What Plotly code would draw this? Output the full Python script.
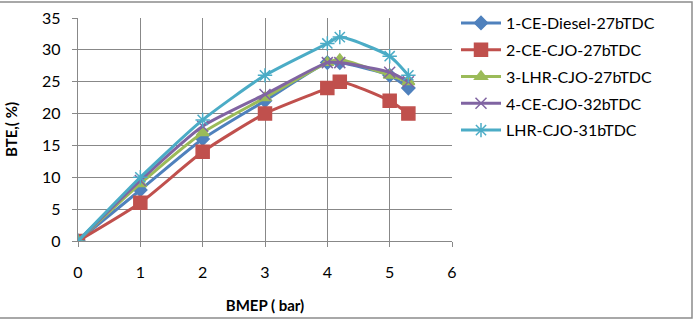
import plotly.graph_objects as go

bmep = [0, 1, 2, 3, 4, 4.2, 5, 5.3]
diesel_27 = [0, 8, 16, 22, 28, 28, 26, 24]
cjo_27 = [0, 6, 14, 20, 24, 25, 22, 20]
lhr_cjo_27 = [0, 9, 17, 22.5, 28, 28.5, 26, 25]
ce_cjo_32 = [0, 9.5, 18, 23, 28, 28, 26.5, 25]
lhr_cjo_31 = [0, 10, 19, 26, 31, 32, 29, 26]

names = ["1-CE-Diesel-27bTDC", "2-CE-CJO-27bTDC", "3-LHR-CJO-27bTDC",
         "4-CE-CJO-32bTDC", "LHR-CJO-31bTDC"]
series = [diesel_27, cjo_27, lhr_cjo_27, ce_cjo_32, lhr_cjo_31]
colors = ["#4F81BD", "#C0504D", "#9BBB59", "#8064A2", "#4BACC6"]
symbols = ["diamond", "square", "triangle-up", "x-thin-open", "asterisk-open"]
sizes = [10, 13, 11, 11, 12]

fig = go.Figure()
for i, (n, s, c, sym, sz) in enumerate(zip(names, series, colors, symbols, sizes)):
    fig.add_trace(go.Scatter(
        x=bmep, y=s, name=n, mode="lines+markers", legendgroup=f"g{i}",
        line=dict(color=c, width=3, shape="spline", smoothing=0.6),
        marker=dict(symbol=sym, size=sz, color=c, line=dict(color=c, width=1.5)),
    ))

W, H = 695, 321
L, R, T, B = 78, 243, 18, 80
pw, ph = W - L - R, H - T - B

def px(xp):
    return (xp - L) / pw

def py(yp):
    return (H - B - yp) / ph

fig.add_shape(type="rect", xref="paper", yref="paper",
              x0=px(-10), x1=px(692), y0=py(318), y1=py(2),
              line=dict(color="#8C8C8C", width=1.5), fillcolor="rgba(0,0,0,0)")

fig.update_layout(
    width=W, height=H,
    margin=dict(l=L, r=R, t=T, b=B, autoexpand=False),
    paper_bgcolor="white", plot_bgcolor="white",
    font=dict(family="Lato, Open Sans, sans-serif", size=16, color="#000000"),
    showlegend=True,
    legend=dict(xref="container", yref="container",
                x=456 / W, y=1 - 6 / H, xanchor="left", yanchor="top",
                font=dict(size=16), itemwidth=40, tracegroupgap=3,
                bgcolor="rgba(0,0,0,0)"),
    xaxis=dict(range=[0, 6], dtick=1, showgrid=True, gridcolor="#888888",
               gridwidth=1.3, zeroline=False, showline=True, linecolor="#888888",
               linewidth=1.3, mirror=False, ticks="outside", ticklen=5,
               tickcolor="#888888", ticklabelstandoff=12,
               title=dict(text="<b>BMEP ( bar)</b>", font=dict(size=15), standoff=20)),
    yaxis=dict(range=[0, 35], dtick=5, showgrid=True, gridcolor="#888888",
               gridwidth=1.3, zeroline=False, showline=True, linecolor="#888888",
               linewidth=1.3, ticks="outside", ticklen=5, tickcolor="#888888",
               ticklabelstandoff=8,
               title=dict(text="<b>BTE,( %)</b>", font=dict(size=15), standoff=20)),
)

fig.write_html("out.html")
